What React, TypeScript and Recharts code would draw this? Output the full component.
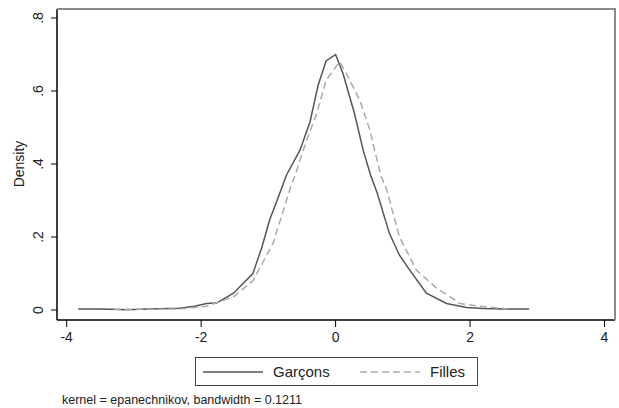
import { LineChart, Line, XAxis, YAxis } from 'recharts';

// kernel density estimates
const garconsX = [-3.83, -3.5, -3.1, -2.8, -2.32, -2.1, -1.92, -1.77, -1.52, -1.23, -1.1, -0.98, -0.85, -0.73, -0.53, -0.38, -0.26, -0.14, 0.0, 0.11, 0.28, 0.41, 0.52, 0.62, 0.8, 0.95, 1.1, 1.35, 1.65, 1.95, 2.2, 2.48, 2.88];
const garconsY = [0.003, 0.003, 0.001, 0.003, 0.005, 0.01, 0.018, 0.019, 0.046, 0.1, 0.17, 0.247, 0.31, 0.37, 0.438, 0.516, 0.616, 0.683, 0.7, 0.648, 0.539, 0.438, 0.37, 0.32, 0.21, 0.15, 0.11, 0.046, 0.018, 0.007, 0.004, 0.003, 0.003];

const fillesX = [-3.3, -2.77, -2.32, -1.92, -1.52, -1.23, -0.93, -0.68, -0.61, -0.43, -0.28, -0.14, 0.06, 0.16, 0.36, 0.51, 0.58, 0.68, 0.76, 0.95, 1.2, 1.5, 1.85, 2.1, 2.34, 2.55];
const fillesY = [0.002, 0.002, 0.003, 0.01, 0.036, 0.08, 0.183, 0.33, 0.365, 0.466, 0.539, 0.63, 0.68, 0.648, 0.575, 0.493, 0.438, 0.365, 0.33, 0.2, 0.11, 0.06, 0.018, 0.011, 0.007, 0.003];

const xTicks = [-4, -2, 0, 2, 4];
const yTicks = [0, 0.2, 0.4, 0.6, 0.8];

const garcons = garconsX.map((x, i) => ({ x, y: garconsY[i] }));
const filles = fillesX.map((x, i) => ({ x, y: fillesY[i] }));

const FONT = '"Liberation Sans", Arial, Helvetica, sans-serif';

const fmtY = (v: number) => (v === 0 ? '0' : v.toFixed(1).replace(/^0/, ''));

const XTick = (props: any) => {
    const { x, y, payload } = props;
    return (
        <text x={x} y={y + 13} textAnchor="middle" fontSize={14} fontFamily={FONT} fill="#222">
            {payload.value}
        </text>
    );
};

const YTick = (props: any) => {
    const { x, y, payload } = props;
    const bx = x - 6;
    return (
        <text x={bx} y={y} transform={`rotate(-90 ${bx} ${y})`} textAnchor="middle" fontSize={14} fontFamily={FONT} fill="#222">
            {fmtY(payload.value)}
        </text>
    );
};

export default function App() {
    return (
        <div style={{ position: 'absolute', left: 0, top: 0, width: 619, height: 408, background: '#fff' }}>
            <LineChart width={619} height={408} margin={{ top: 9, right: 4, bottom: 58, left: 0 }}>
                <XAxis
                    type="number"
                    dataKey="x"
                    domain={[-4.144, 4.156]}
                    ticks={xTicks}
                    allowDataOverflow
                    height={30}
                    tickSize={7}
                    axisLine={{ stroke: '#000', strokeWidth: 1.5 }}
                    tickLine={{ stroke: '#000', strokeWidth: 1 }}
                    tick={<XTick />}
                />
                <YAxis
                    type="number"
                    dataKey="y"
                    domain={[-0.0274, 0.8247]}
                    ticks={yTicks}
                    allowDataOverflow
                    width={57}
                    tickSize={6}
                    axisLine={{ stroke: '#000', strokeWidth: 1.5 }}
                    tickLine={{ stroke: '#000', strokeWidth: 1 }}
                    tick={<YTick />}
                    label={{
                        content: () => (
                            <text x={24} y={164} transform="rotate(-90 24 164)" textAnchor="middle" fontSize={14} fontFamily={FONT} fill="#222">
                                Density
                            </text>
                        ),
                    }}
                />
                <Line data={garcons} dataKey="y" type="linear" stroke="#555" strokeWidth={1.5} dot={false} isAnimationActive={false} />
                <Line data={filles} dataKey="y" type="linear" stroke="#aaa" strokeWidth={1.5} strokeDasharray="7 4" dot={false} isAnimationActive={false} />
            </LineChart>

            {/* outer frame of the plot region (top + right) */}
            <div style={{ position: 'absolute', left: 57, top: 8, width: 559, height: 312, borderTop: '2px solid #8a8a8a', borderRight: '2px solid #8a8a8a', boxSizing: 'border-box', pointerEvents: 'none' }} />

            <svg style={{ position: 'absolute', left: 195, top: 357 }} width={283} height={29}>
                <rect x={0.5} y={0.5} width={282} height={28} fill="#fff" stroke="#444" />
                <line x1={8} x2={68} y1={15} y2={15} stroke="#555" strokeWidth={1.5} />
                <text x={78} y={20} fontSize={15} fontFamily={FONT} fill="#222">Garçons</text>
                <line x1={165} x2={225} y1={15} y2={15} stroke="#aaa" strokeWidth={1.5} strokeDasharray="7 4" />
                <text x={235} y={20} fontSize={15} fontFamily={FONT} fill="#222">Filles</text>
            </svg>

            <div style={{ position: 'absolute', left: 62, top: 393, fontSize: 12.5, fontFamily: FONT, color: '#222', whiteSpace: 'nowrap' }}>
                kernel = epanechnikov, bandwidth = 0.1211
            </div>
        </div>
    );
}
